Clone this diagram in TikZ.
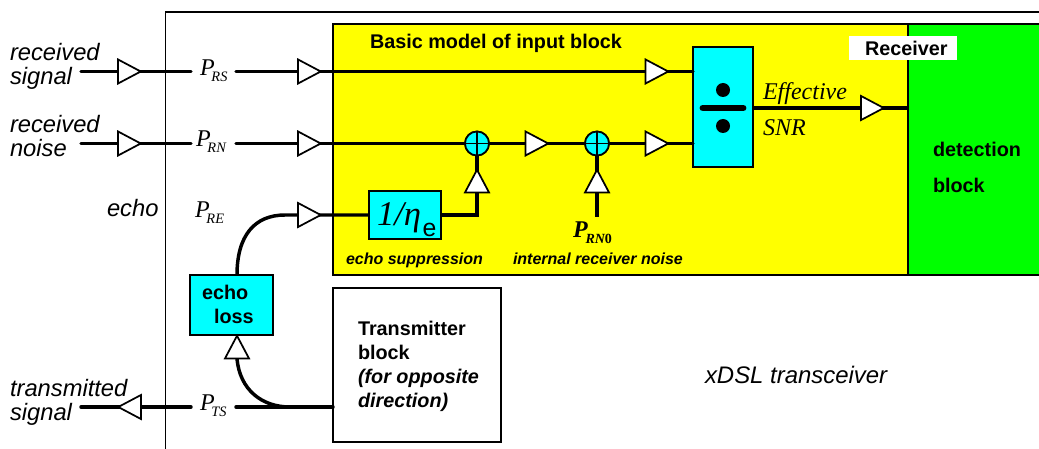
\documentclass[tikz,border=0pt]{standalone}
\usepackage{fontspec}
\setmainfont{Liberation Serif}
\setsansfont{Liberation Sans}
\usetikzlibrary{shapes.geometric}
\definecolor{ycol}{RGB}{255,255,0}
\definecolor{gcol}{RGB}{0,255,0}
\definecolor{ccol}{RGB}{0,255,255}
\newcommand{\psub}[1]{\kern-2.4pt\raisebox{-4.5pt}{\fontsize{10.8pt}{12pt}\selectfont #1}}
\tikzset{
  x=0.75pt,y=-0.75pt,
  wire/.style={line width=2.6pt,line cap=round},
  wirefl/.style={line width=2.6pt},
  tri/.style={draw,line width=1.3pt,fill=white,isosceles triangle,isosceles triangle stretches,inner sep=0pt,
    minimum height=17pt,minimum width=18pt,shape border rotate=#1,anchor=apex},
  tri/.default=0,
  sumc/.style={draw,circle,line width=1.3pt,fill=ccol,minimum size=18pt,inner sep=0pt},
  lab/.style={anchor=base west,inner sep=0pt,outer sep=0pt},
  side/.style={lab,font=\sffamily\itshape\fontsize{17.8pt}{20pt}\selectfont},
  bold/.style={lab,font=\sffamily\bfseries\fontsize{14.85pt}{17pt}\selectfont},
  boldit/.style={lab,font=\sffamily\bfseries\itshape\fontsize{14.85pt}{17pt}\selectfont},
  small/.style={lab,font=\sffamily\bfseries\itshape\fontsize{12pt}{14pt}\selectfont},
  pp/.style={lab,font=\itshape\fontsize{18pt}{20pt}\selectfont},
}
\begin{document}
\begin{tikzpicture}
\useasboundingbox (0,0) rectangle (1039,449);
% frame
\draw[line width=1.3pt] (165.5,449) -- (165.5,12) -- (1039,12);
% blocks
\node[draw,line width=1.3pt,fill=ycol,inner sep=0pt,minimum width=431.25pt,minimum height=188.25pt] (input) at (620.5,149.5) {};
\node[draw,line width=1.3pt,fill=gcol,inner sep=0pt,minimum width=105pt,minimum height=188.25pt] (detect) at (978,149.5) {};
\node[draw,line width=1.3pt,fill=white,inner sep=0pt,minimum width=126pt,minimum height=115.5pt] (tx) at (417,365) {};
\node[draw,line width=1.3pt,fill=ccol,inner sep=0pt,minimum width=45pt,minimum height=90pt] (div) at (723,107) {};
\node[draw,line width=1.3pt,fill=ccol,inner sep=0pt,minimum width=54pt,minimum height=36pt] (eta) at (405,215) {};
\node[draw,line width=1.3pt,fill=ccol,inner sep=0pt,minimum width=62.25pt,minimum height=45pt] (loss) at (231.5,305) {};
\node[fill=white,inner sep=0pt,minimum width=81pt,minimum height=18pt] (recv) at (903,48) {};
% coordinates
\coordinate (rsA) at (81,71.5); \coordinate (rsB) at (191,71.5); \coordinate (rsC) at (236,71.5); \coordinate (rsD) at (693,71.5);
\coordinate (rnA) at (81,143.5); \coordinate (rnB) at (191,143.5); \coordinate (rnC) at (236,143.5); \coordinate (rnD) at (693,143.5);
\coordinate (tsA) at (81,407); \coordinate (tsB) at (191,407); \coordinate (tsC) at (236,407); \coordinate (tsD) at (333,407);
\coordinate (reA) at (285,215); \coordinate (reB) at (369,215);
\coordinate (etaR) at (477,215);
\coordinate (lossTop) at (237,275); \coordinate (lossBot) at (237,359); \coordinate (tsJoin) at (290,407);
\coordinate (n0) at (597,217);
\coordinate (outA) at (753,108); \coordinate (outB) at (908,108);
% summing nodes
\node[sumc] (s1) at (477,143.5) {};
\node[sumc] (s2) at (597,143.5) {};
% wires
\draw[wire] (rsA) -- (rsB);
\draw[wire] (rsC) -- (rsD);
\draw[wire] (rnA) -- (rnB);
\draw[wire] (rnC) -- (s1);
\draw[wire] (s1) -- (s2);
\draw[wire] (s2) -- (rnD);
\draw[wire] (tsA) -- (tsB);
\draw[wire] (tsC) -- (tsD);
\draw[wirefl] (lossTop) .. controls (237,235) and (255,215) .. (reA) -- (reB);
\draw[wirefl] (eta.east) -- (etaR) -- (s1.south);
\draw[wirefl] (n0) -- (s2.south);
\draw[wirefl] (lossBot) .. controls (240,390) and (262,407) .. (tsJoin);
\draw[wirefl] (outA) -- (outB);
% redraw summing nodes on top of wires
\node[sumc] at (477,143.5) {};
\node[sumc] at (597,143.5) {};
\draw[line width=1.3pt] (s1.west) -- (s1.east) (s1.north) -- (s1.south);
\draw[line width=1.3pt] (s2.west) -- (s2.east) (s2.north) -- (s2.south);
% triangles
\node[tri] (t1) at (143,71.5) {};
\node[tri] (t2) at (323,71.5) {};
\node[tri] (t3) at (670.5,71.5) {};
\node[tri] (t4) at (143,143.5) {};
\node[tri] (t5) at (323,143.5) {};
\node[tri] (t6) at (550.5,143.5) {};
\node[tri] (t7) at (670.5,143.5) {};
\node[tri] (t8) at (323,215) {};
\node[tri] (t9) at (886,108) {};
\node[tri=90] (t10) at (477,167.5) {};
\node[tri=90] (t11) at (597,167.5) {};
\node[tri=90] (t12) at (237,333.5) {};
\node[tri=180] (t13) at (116,407) {};
% divider symbol
\fill (723,90) circle[radius=7];
\fill (723,126) circle[radius=7];
\draw[line width=5.2pt,line cap=round] (703,108) -- (743,108);
% texts
\node[side] (a1) at (10,61) {received};
\node[side] (a2) at (10,85) {signal};
\node[side] (a3) at (10,133) {received};
\node[side] (a4) at (10,157) {noise};
\node[side] (a5) at (107,217) {echo};
\node[side] (a6) at (10,396) {transmitted};
\node[side] (a7) at (10,420) {signal};
\node[side,font=\sffamily\itshape\fontsize{17.95pt}{20pt}\selectfont] (a8) at (705,383) {xDSL transceiver};
\node[pp] (p1) at (200,76) {P\psub{RS}};
\node[pp] (p2) at (196,147) {P\psub{RN}};
\node[pp] (p3) at (195,218) {P\psub{RE}};
\node[pp] (p4) at (200,410) {P\psub{TS}};
\node[bold] (b1) at (370,49) {Basic model of input block};
\node[bold] (b2) at (865,56) {Receiver};
\node[bold] (b3) at (933,157) {detection};
\node[bold] (b4) at (933,193) {block};
\node[bold] (b5) at (202,299) {echo};
\node[bold] (b6) at (214,323) {loss};
\node[bold] (b7) at (358,335) {Transmitter};
\node[bold] (b8) at (358,359) {block};
\node[boldit] (b9) at (358,383) {(for opposite};
\node[boldit] (b10) at (358,407) {direction)};
\node[small] (c1) at (346,264) {echo suppression};
\node[small] (c2) at (513,264) {internal receiver noise};
\node[lab,font=\itshape\bfseries\fontsize{18pt}{20pt}\selectfont] (n1) at (573,238) {P\kern-1.6pt\raisebox{-4.5pt}{\fontsize{10.5pt}{12pt}\selectfont RN\upshape 0}};
\node[lab,font=\itshape\fontsize{18pt}{20pt}\selectfont] (e1) at (763,100) {Effective};
\node[lab,font=\itshape\fontsize{18pt}{20pt}\selectfont] (e2) at (763,136) {SNR};
\node[lab,font=\itshape\fontsize{26pt}{28pt}\selectfont] (h1) at (377,225) {1/η\raisebox{-9pt}{\kern1pt\sffamily\upshape\fontsize{18.6pt}{20pt}\selectfont e}};
\end{tikzpicture}
\end{document}
